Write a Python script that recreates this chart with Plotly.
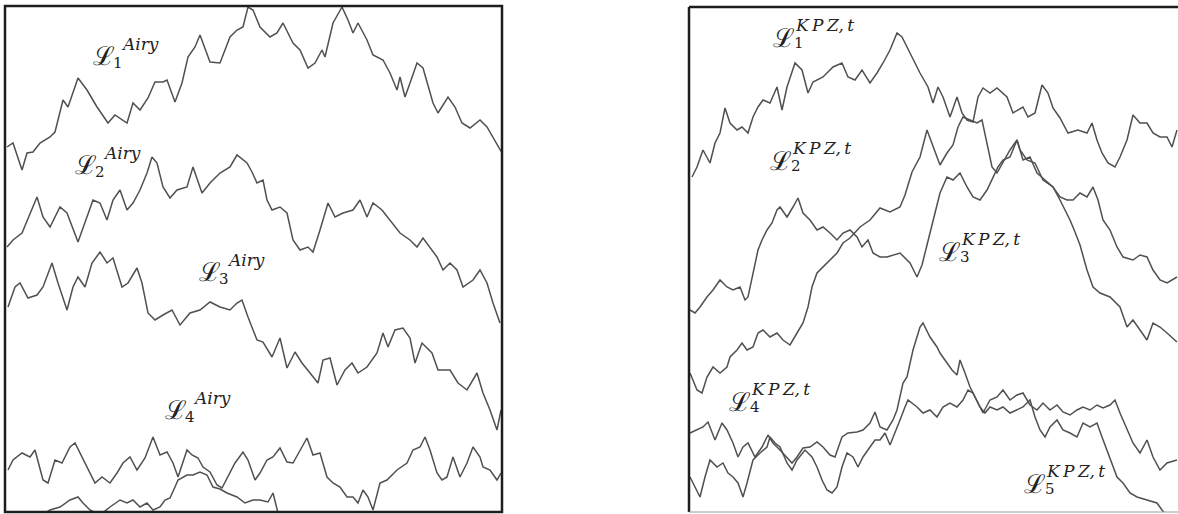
import plotly.graph_objects as go

W, H = 1178, 514

# ---------------- Left panel: Airy line ensemble (image units) -------------
airy1_x = [7,13,22,27,33,40,50,55,63,68,78,87,97,108,115,127,133,140,148,155,163,167,175,182,188,195,200,210,220,230,237,243,248,253,260,270,277,283,293,300,308,315,322,325,333,342,348,353,358,367,373,383,390,397,400,405,410,417,423,433,438,448,455,462,470,480,487,493,502]
airy1_y = [147,143,170,153,152,143,137,132,100,107,78,90,107,123,115,123,103,110,98,82,82,80,102,83,57,47,35,62,63,37,30,27,7,10,27,37,33,23,43,50,68,63,50,57,23,7,20,33,23,40,55,60,73,90,77,97,83,63,68,103,113,97,107,123,128,120,127,137,153]

airy2_x = [7,13,22,30,37,43,50,60,67,78,87,93,100,107,113,120,127,133,140,147,152,157,163,170,177,187,193,202,210,220,230,237,247,252,257,263,267,272,280,287,293,300,308,313,320,328,335,343,353,360,367,373,382,390,400,410,417,423,430,437,443,450,457,463,473,480,487,493,500]
airy2_y = [247,240,233,213,197,217,227,207,213,242,217,200,203,220,200,190,210,203,190,173,157,163,187,198,190,187,167,193,183,173,167,155,163,172,183,180,200,210,207,213,240,250,247,252,230,203,217,213,210,200,217,203,210,220,233,240,247,238,247,257,270,263,270,287,280,270,283,303,323]

airy3_x = [8,15,20,28,37,43,52,58,67,73,78,85,92,100,107,113,122,128,137,142,148,155,163,172,180,190,200,210,220,230,237,242,248,257,263,272,280,287,295,302,310,318,323,330,337,345,352,358,367,377,383,388,395,403,410,415,422,432,438,450,458,467,477,483,490,497,501]
airy3_y = [307,287,283,298,295,287,263,283,310,287,277,287,263,252,263,258,287,283,268,283,313,320,315,310,325,313,310,302,307,310,303,300,317,340,342,357,338,368,352,363,373,383,360,358,385,370,363,373,367,353,333,347,330,328,338,363,343,353,370,370,383,390,373,393,410,430,410]

airy4_x = [8,13,22,30,35,43,48,55,62,70,75,82,88,95,102,110,117,123,130,137,145,153,160,167,173,178,187,192,198,203,210,217,222,227,235,243,248,255,260,267,273,280,287,293,300,307,313,320,327,333,340,347,353,358,363,368,373,380,387,397,407,413,420,425,430,437,442,447,453,460,467,473,480,483,490,497,501]
airy4_y = [470,460,453,457,450,480,483,460,463,447,443,457,470,483,477,483,473,463,457,470,458,437,455,452,463,477,450,455,458,467,472,485,488,478,463,452,460,480,473,460,457,448,462,463,450,438,455,453,477,483,487,497,497,503,490,497,510,483,480,470,463,450,447,437,450,473,480,477,457,477,463,447,457,467,470,480,473]

airy5_x = [8,20,35,45,50,60,70,78,83,90,100,110,120,127,133,140,147,153,160,165,170,175,178,187,193,200,207,213,220,227,237,245,253,260,268,273,278,290,330,373,420,502]
airy5_y = [535,528,520,513,510,507,500,497,503,510,515,507,500,503,500,507,503,510,507,500,498,487,480,475,475,472,475,487,489,493,497,503,500,500,502,493,513,525,530,522,530,540]

# ---------------- Right panel: KPZ_t line ensemble (image units) -------------
kpz1_x = [692,697,703,710,715,720,725,730,737,742,748,753,758,763,770,777,782,787,795,802,808,813,823,833,842,848,855,862,870,877,883,890,897,902,910,920,928,933,938,943,950,957,962,967,973,978,983,990,997,1007,1013,1023,1028,1035,1042,1048,1053,1060,1068,1078,1087,1092,1097,1102,1108,1115,1120,1127,1133,1140,1147,1153,1160,1167,1172,1177]
kpz1_y = [177,167,150,163,143,133,108,123,130,127,133,117,107,100,103,87,110,87,63,70,93,82,77,67,63,77,80,70,83,73,63,50,33,37,53,73,87,103,87,97,117,97,113,120,122,97,88,93,88,97,113,107,117,113,85,93,108,118,133,130,133,123,140,153,163,167,157,140,115,123,123,133,137,137,147,130]

kpz2_x = [690,695,700,707,713,720,727,733,740,745,748,752,755,758,762,767,772,777,780,787,793,798,803,810,817,823,830,837,843,850,857,862,868,873,880,887,900,910,917,922,927,933,940,947,953,960,967,973,980,987,992,998,1003,1010,1017,1023,1030,1037,1045,1053,1060,1065,1070,1075,1080,1087,1093,1100,1110,1120,1127,1133,1140,1147,1153,1160,1167,1177]
kpz2_y = [310,313,307,297,290,280,287,290,287,300,297,277,263,250,240,230,223,210,207,217,207,198,213,220,230,227,233,240,233,230,237,247,240,253,257,257,253,263,277,265,245,222,193,177,180,173,187,197,200,190,180,167,160,157,140,160,157,173,180,187,200,210,220,232,245,270,287,293,297,307,327,320,330,340,323,327,333,342]

kpz3_x = [690,697,702,707,713,720,727,730,737,742,747,753,758,763,770,777,783,790,797,803,808,812,817,823,830,837,843,850,860,870,880,890,900,905,912,920,927,933,940,947,953,958,963,970,977,982,987,992,997,1003,1010,1017,1020,1027,1035,1043,1053,1060,1067,1073,1080,1087,1093,1098,1103,1110,1117,1123,1133,1140,1147,1153,1160,1167,1177]
kpz3_y = [373,390,393,377,367,373,367,357,350,343,350,347,333,330,337,333,340,345,333,323,307,287,273,267,260,253,243,238,227,220,208,212,207,195,172,157,130,147,165,153,145,127,117,120,123,120,143,167,173,163,150,140,150,160,163,180,187,197,200,200,193,197,187,200,220,230,247,257,260,255,257,270,280,283,277]

kpz4_x = [690,697,703,708,715,722,727,733,738,743,748,755,762,768,773,780,787,792,797,803,810,817,823,830,835,842,848,857,863,870,875,880,887,893,897,900,903,907,913,920,923,930,937,940,945,952,957,960,965,970,975,980,985,990,997,1003,1010,1017,1023,1030,1035,1040,1045,1050,1057,1063,1070,1077,1083,1090,1097,1102,1107,1112,1117,1123,1130,1137,1147,1157,1162,1170]
kpz4_y = [433,430,427,422,440,423,430,443,457,447,443,457,447,435,443,450,457,463,457,448,447,442,447,455,457,437,433,432,430,423,412,427,430,420,410,397,383,377,350,327,323,337,347,353,360,370,375,360,373,387,397,407,413,407,410,407,413,410,407,400,417,430,437,427,420,430,433,437,423,427,423,437,450,463,477,483,493,497,500,503,510,520]

kpz5_x = [690,693,700,705,710,717,723,728,733,738,743,747,750,753,760,767,770,775,780,787,792,797,805,812,817,822,827,832,837,842,847,853,858,863,870,875,880,885,890,895,900,905,908,917,923,930,937,943,950,957,963,968,973,978,983,990,997,1003,1010,1017,1023,1030,1037,1043,1050,1057,1063,1070,1077,1083,1090,1097,1103,1110,1115,1120,1127,1133,1140,1147,1153,1160,1167,1177]
kpz5_y = [477,483,497,477,460,467,463,473,477,483,497,483,470,460,453,447,437,443,447,463,470,460,450,457,467,480,490,493,487,467,453,457,467,457,447,440,440,433,445,433,420,407,400,407,413,410,417,407,403,407,400,390,393,403,413,400,397,390,400,395,393,405,410,403,410,405,412,415,410,407,410,405,408,405,400,413,430,443,453,440,457,470,463,460]

airy_sub = ["1", "2", "3", "4"]
kpz_sub = ["1", "2", "3", "4", "5"]

LINE_COLOR = "#505050"
LINE_W = 1.5
fig = go.Figure()

left_series = [(airy1_x, airy1_y), (airy2_x, airy2_y), (airy3_x, airy3_y), (airy4_x, airy4_y), (airy5_x, airy5_y)]
right_series = [(kpz1_x, kpz1_y), (kpz2_x, kpz2_y), (kpz3_x, kpz3_y), (kpz4_x, kpz4_y), (kpz5_x, kpz5_y)]

for xs, ys in left_series:
    fig.add_trace(go.Scatter(x=xs, y=ys, mode="lines", line=dict(color=LINE_COLOR, width=LINE_W),
                             xaxis="x", yaxis="y", showlegend=False, hoverinfo="skip"))
for xs, ys in right_series:
    fig.add_trace(go.Scatter(x=xs, y=ys, mode="lines", line=dict(color=LINE_COLOR, width=LINE_W),
                             xaxis="x2", yaxis="y2", showlegend=False, hoverinfo="skip"))

L_X0, L_X1, TOP, BOT = 5, 502, 6, 512
R_X0, R_X1 = 689, 1178

ax_common = dict(visible=False, showgrid=False, zeroline=False, fixedrange=True)
fig.update_layout(
    width=W, height=H, margin=dict(l=0, r=0, t=0, b=0),
    paper_bgcolor="white", plot_bgcolor="white",
    xaxis=dict(domain=[L_X0 / W, L_X1 / W], range=[L_X0, L_X1], **ax_common),
    yaxis=dict(domain=[1 - BOT / H, 1 - TOP / H], range=[BOT, TOP], **ax_common),
    xaxis2=dict(domain=[R_X0 / W, 1], range=[R_X0, R_X1], anchor="y2", **ax_common),
    yaxis2=dict(domain=[1 - BOT / H, 1 - TOP / H], range=[BOT, TOP], anchor="x2", **ax_common),
)

def px(x):
    return x / W

def py(y):
    return 1 - y / H

dark = "#1e1e1e"
shapes = [
    dict(type="rect", xref="paper", yref="paper", x0=px(L_X0), x1=px(L_X1), y0=py(BOT), y1=py(TOP),
         line=dict(color=dark, width=2.5)),
    dict(type="line", xref="paper", yref="paper", x0=px(R_X0), x1=1.0, y0=py(7), y1=py(7),
         line=dict(color=dark, width=2.5)),
    dict(type="line", xref="paper", yref="paper", x0=px(R_X0), x1=px(R_X0), y0=py(BOT), y1=py(7),
         line=dict(color=dark, width=2.5)),
    dict(type="line", xref="paper", yref="paper", x0=px(R_X0), x1=1.0, y0=py(BOT), y1=py(BOT),
         line=dict(color="#9a9a9a", width=1)),
]
fig.update_layout(shapes=shapes)

annotations = []
SCRIPT_FONT = "DejaVu Serif"

def label(xref, yref, lx, ly, sup, sub, sup_dx, sup_dy, sub_dx, sub_dy):
    annotations.append(dict(xref=xref, yref=yref, x=lx, y=ly, text="ℒ", showarrow=False,
                            font=dict(family=SCRIPT_FONT, size=26, color="#222"),
                            xanchor="center", yanchor="middle"))
    annotations.append(dict(xref=xref, yref=yref, x=lx + sup_dx, y=ly + sup_dy, text="<i>" + sup + "</i>",
                            showarrow=False, font=dict(family=SCRIPT_FONT, size=17, color="#222"),
                            xanchor="left", yanchor="middle"))
    annotations.append(dict(xref=xref, yref=yref, x=lx + sub_dx, y=ly + sub_dy, text=sub,
                            showarrow=False, font=dict(family=SCRIPT_FONT, size=15, color="#222"),
                            xanchor="center", yanchor="middle"))

airy_pos = [(104, 56), (86, 165), (210, 272), (176, 410)]
for (lx, ly), s in zip(airy_pos, airy_sub):
    label("x", "y", lx, ly, "Airy", s, 15, -12, 14, 7)

kpz_pos = [(784, 38), (781, 161), (950, 252), (740, 402), (1035, 484)]
for (lx, ly), s in zip(kpz_pos, kpz_sub):
    label("x2", "y2", lx, ly, "K\u2009P\u2009Z,\u2009t", s, 9, -13, 15, 5)

fig.update_layout(annotations=annotations)
fig.write_html("out.html", config={"displayModeBar": False},
               post_script="document.body.style.margin='0px';document.body.style.overflow='hidden';")
